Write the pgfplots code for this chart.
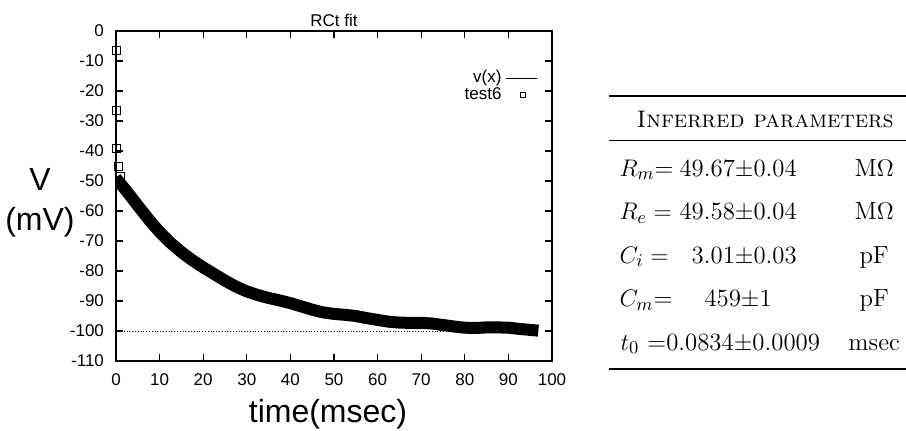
\documentclass[border=0pt]{standalone}
\usepackage{fontspec}
\usepackage{array}
\usepackage{pgfplots}
\pgfplotsset{compat=1.18}
\newfontfamily\chartfont{Liberation Sans}

\begin{document}
\begin{tikzpicture}
\path[use as bounding box] (-58pt,-34.5pt) rectangle (395pt,180.5pt);
\begin{axis}[
  at={(0,0)}, anchor=south west,
  scale only axis, width=218pt, height=165pt,
  xmin=0, xmax=100, ymin=-110, ymax=0,
  xtick={0,10,...,100},
  xticklabels={0,10,20,30,40,50,60,70,80,90,100},
  ytick={-110,-100,...,0},
  yticklabels={-110,-100,-90,-80,-70,-60,-50,-40,-30,-20,-10,0},
  tick align=inside,
  major tick length=3.5pt,
  axis line style={line width=0.7pt},
  tick style={line width=0.6pt, black},
  ticklabel style={font=\chartfont\fontsize{8.5}{10}\selectfont},
  xticklabel style={yshift=-3pt},
  yticklabel style={xshift=-2.5pt},
  title={RCt fit},
  every axis title/.style={at={(axis description cs:0.5,1)}, anchor=base, yshift=2.5pt,
    font=\chartfont\fontsize{8.5}{10}\selectfont},
  xlabel={time(msec)},
  every axis x label/.style={at={(axis description cs:0.5,0)}, anchor=base, yshift=-30.5pt, xshift=-3pt,
    font=\chartfont\fontsize{16}{19}\selectfont},
  ylabel={V\\(mV)},
  every axis y label/.style={at={(axis description cs:0,0.5)}, anchor=center, xshift=-38pt, yshift=-3.5pt,
    align=center, font=\chartfont\fontsize{16}{20}\selectfont},
  legend plot pos=right,
  legend cell align=right,
  legend style={draw=none, fill=none, at={(1,1)}, anchor=north east, xshift=-6pt, yshift=-16.5pt,
    font=\chartfont\fontsize{8.5}{10}\selectfont, row sep=-3pt, inner sep=1pt},
]
\addplot[black, densely dotted, line width=0.4pt,
  legend image code/.code={\draw[black, solid, line width=0.4pt] (0cm,0cm) -- (0.55cm,0cm);}]
  coordinates {(0.15,-38) (0.15,-100) (95.5,-100)};
\addlegendentry{v(x)}
\addplot[only marks, mark=square, mark size=2pt, mark options={line width=0.4pt, black},
  legend image code/.code={\draw[black, line width=0.4pt] (0.3cm-1.3pt,-1.3pt) rectangle (0.3cm+1.3pt,1.3pt);}]
  coordinates {(0.15,-6.6) (0.15,-26.3) (0.2,-39.1) (0.6,-45.2) (0.9,-48.3)};
\addlegendentry{test6}
\addplot[forget plot, black, line width=6pt, line join=round, line cap=rect]
  coordinates {
  (0.8,-50.5) (2.5,-53.5) (5,-58.2) (7.5,-62.8) (10,-67) (12.5,-70.6) (15,-73.7)
  (17.5,-76.4) (20,-78.8) (22.5,-81) (25,-83.2) (27.5,-85.2) (30,-86.8)
  (32.5,-88) (35,-89) (37.5,-89.8) (40,-90.7) (42.5,-91.8) (45,-92.9)
  (47.5,-93.8) (50,-94.3) (52.5,-94.6) (55,-95) (57.5,-95.7) (60,-96.3)
  (62.5,-96.9) (65,-97.2) (67.5,-97.3) (70,-97.3) (72.5,-97.5) (75,-98)
  (77.5,-98.5) (80,-98.9) (82.5,-99) (85,-98.8) (87.5,-98.8) (90,-98.9)
  (92.5,-99.3) (95.5,-99.7)};
\end{axis}
\node[anchor=north east, inner sep=0pt] at (395pt,133pt) {%
  \fontsize{12.4}{15}\selectfont
  \renewcommand{\arraystretch}{1.45}%
  \setlength{\arrayrulewidth}{0.6pt}%
  \begin{tabular}{@{\hspace{5.5pt}}p{28pt}@{\hspace{2pt}}c@{\hspace{23pt}}c@{}}
  \hline
  \multicolumn{3}{c}{\rule{0pt}{14pt}\hspace{8pt}{\fontsize{12}{15}\selectfont\textsc{Inferred parameters}}}\\
  \hline
  \rule{0pt}{17.5pt}$R_m$= & 49.67$\pm$0.04 & M$\Omega$\\
  $R_e =$ & 49.58$\pm$0.04 & M$\Omega$\\
  $C_i =$ & \phantom{0}3.01$\pm$0.03 & pF\\
  $C_m$= & 459$\pm$1 & pF\\
  \multicolumn{2}{l}{\rule[-9pt]{0pt}{0pt}\makebox[0pt][l]{$t_0$ =0.0834$\pm$0.0009}} & msec\\
  \hline
  \end{tabular}};
\end{tikzpicture}
\end{document}
